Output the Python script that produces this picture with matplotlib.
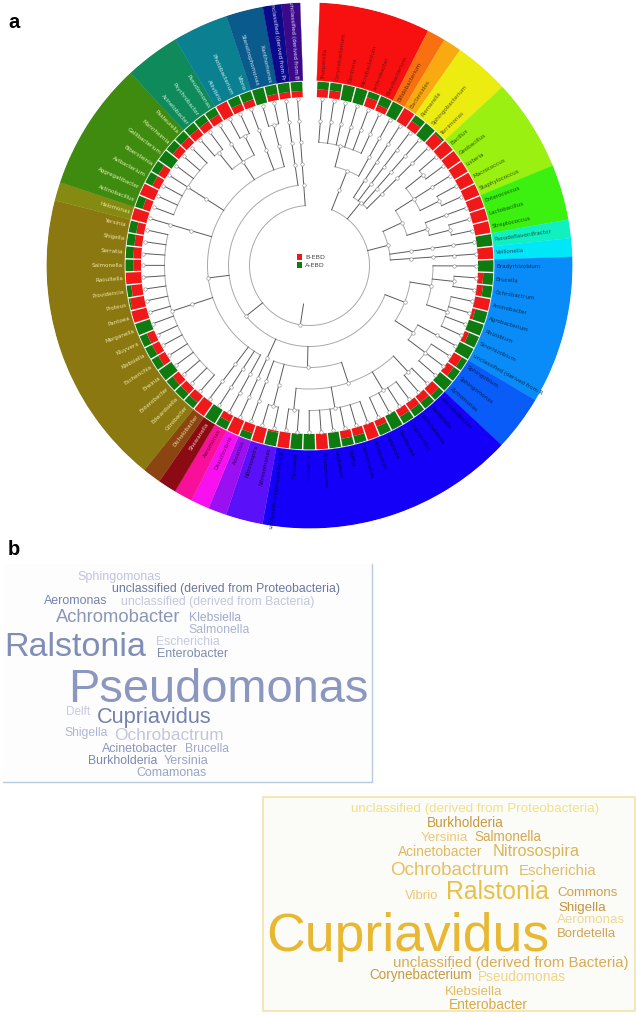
import numpy as np
import matplotlib
matplotlib.use("Agg")
import matplotlib.pyplot as plt
from matplotlib.patches import Rectangle

plt.rcParams['font.family'] = ['Liberation Sans', 'DejaVu Sans']

# Panel a: genera clockwise from the top of the ring
genera = ['Trueperella', 'Corynebacterium', 'Gordonia', 'Microbacterium', 'Arthrobacter', 'Brevibacterium',
          'Bifidobacterium', 'Bacteroides', 'Riemerella', 'Sphingobacterium', 'Terrimonas',
          'Bacillus', 'Geobacillus', 'Listeria', 'Macrococcus', 'Staphylococcus',
          'Enterococcus', 'Lactobacillus', 'Streptococcus', 'Pseudoflavonifractor', 'Veillonella',
          'Bradyrhizobium', 'Brucella', 'Ochrobactrum', 'Aminobacter', 'Agrobacterium', 'Rhizobium',
          'Sinorhizobium', 'unclassified (derived from R', 'Sphingobium', 'Sphingomonas', 'Zymomonas',
          'Achromobacter', 'Bordetella', 'Burkholderia', 'Cupriavidus', 'Pandoraea', 'Ralstonia',
          'Acidovorax', 'Comamonas', 'Delftia', 'Leptothrix', 'Polaromonas', 'Laribacter', 'Neisseria',
          'unclassified (derived from B', 'Nitrosomonas', 'Nitrosospira', 'Azoarcus', 'Desulfovibrio',
          'Aeromonas', 'Shewanella', 'Dichelobacter', 'Citrobacter', 'Edwardsiella', 'Enterobacter',
          'Erwinia', 'Escherichia', 'Klebsiella', 'Kluyvera', 'Morganella', 'Pantoea', 'Proteus',
          'Providencia', 'Raoultella', 'Salmonella', 'Serratia', 'Shigella', 'Yersinia', 'Halomonas',
          'Actinobacillus', 'Aggregatibacter', 'Avibacterium', 'Bibersteinia', 'Gallibacterium',
          'Mannheimia', 'Pasteurella', 'Acinetobacter', 'Psychrobacter', 'Pseudomonas', 'Aliivibrio',
          'Photobacterium', 'Vibrio', 'Stenotrophomonas', 'Xanthomonas', 'unclassified (derived from Pr',
          'unclassified (derived from B']

# share of B-EBD in each ring tile, the rest is A-EBD
b_share = [0.5, 0.5, 0, 0, 0.6, 0.4, 0, 1, 0.55, 0, 0.85, 1, 1, 1, 1, 1, 1, 1, 1, 0, 1,
           0, 0.35, 0.4, 1, 0.2, 0, 0.3, 0, 0.6, 0.5, 0,
           0.6, 0.5, 0.5, 0.5, 0, 0.4, 1, 0.5, 0.5, 0, 1, 0, 0, 1, 0.1, 1, 0.55, 1, 0.45, 0, 1,
           0.55, 0.5, 0.5, 0, 0.5, 0.5, 0.5, 0, 1, 0.9, 0.7, 1, 0.5, 0.5, 0.5, 0.5,
           1, 0.5, 1, 0.5, 0.5, 0, 0.5, 0.5, 0.5, 0.5, 0.5, 1, 0.45, 0.45, 0, 0.4, 0.4, 0.4]

# outer sectors: how many genera each one holds, its fill and its text colour
sector_counts = [6, 1, 1, 3, 5, 3, 1, 1, 8, 3, 14, 2, 1, 1, 1, 1, 1, 16, 1, 7, 3, 3, 2, 1, 1]
sector_colors = ['#f81010', '#f87010', '#f8aa10', '#ecec10', '#9af010', '#3cf010', '#10f0c0', '#00e8f8',
                 '#0a8cf8', '#0a5cf8', '#1400f8', '#5a10f8', '#9a10f0', '#f810f0', '#f8109a', '#8b0a14',
                 '#8b4510', '#8b7810', '#858b10', '#3f8b10', '#0f8a5a', '#0a8090', '#0a5a8c', '#0a0a8a',
                 '#3a0a8a']
sector_text = ['#7a1010', '#6a2a00', '#6a4a00', '#5a5a00', '#2a5a00', '#0a5a00', '#005a4a', '#004a6a',
               '#00305a', '#00205a', '#00005a', '#1a0050', '#400070', '#700070', '#700040', '#e8c8b0',
               '#f0d8a0', '#efe6a8', '#efe6a8', '#dff0b0', '#c8f0d8', '#c8f0f0', '#c8e0f0', '#d8d8f8',
               '#e0d8f8']

# taxonomy tree: a list is a node, an int is a genus, (angle, list) fixes a stem angle
actino = [[[0, 1, 2, 3, 4, 5], 6]]
bactero = [7, 8, 9, 10]
firmi = [[[[11, 12], 13, [14, 15]], [16, [17, 18]]], 19, 20]
alpha = [[21, [22, 23], [24, 25, 26, 27]], [28, [29, 30, 31]]]
beta = [[[32, 33], [34, 35, 36, 37], [38, 39, 40, 41, 42, 43], [44, 45]], [[46, 47]], 48]
gamma = (263, [50, 51, 52, [list(range(53, 69))], 69, [list(range(70, 77))],
               [[77, 78], 79, [80, 81]], 82, [[83, 84]]])
proteo = [alpha, beta, 49, gamma, 85]
tree = [actino, bactero, firmi, proteo, 86]

# Panel b: word, left px, right px, baseline px, colour
left_words = ['Sphingomonas', 'unclassified (derived from Proteobacteria)', 'Aeromonas',
              'unclassified (derived from Bacteria)', 'Achromobacter', 'Klebsiella', 'Salmonella',
              'Ralstonia', 'Escherichia', 'Enterobacter', 'Pseudomonas', 'Delft', 'Cupriavidus',
              'Shigella', 'Ochrobactrum', 'Acinetobacter', 'Brucella', 'Burkholderia', 'Yersinia',
              'Comamonas']
left_x0 = [232, 337, 132, 363, 168, 566, 565, 12, 467, 470, 205, 197, 292, 192, 342, 306, 554, 265, 490, 410]
left_x1 = [482, 1025, 322, 945, 545, 722, 747, 440, 658, 684, 1108, 270, 637, 322, 671, 534, 686, 472, 624, 621]
left_y = [135, 172, 208, 210, 262, 257, 293, 362, 331, 367, 500, 541, 565, 603, 615, 650, 650, 686, 686, 724]
left_colors = ['#c0c4de', '#6a76a0', '#7482ae', '#c2c6de', '#8a96b8', '#a0a8cc', '#aab2d0', '#7e8eb6',
               '#c4c8e0', '#7e8cb0', '#8b97bf', '#c6cae2', '#7480ae', '#b0b6d6', '#c4c4dc', '#8a94bc',
               '#a2a8ca', '#7c88b2', '#9aa4c8', '#98a4c4']

right_words = ['unclassified (derived from Proteobacteria)', 'Burkholderia', 'Yersinia', 'Salmonella',
               'Acinetobacter', 'Nitrosospira', 'Ochrobactrum', 'Escherichia', 'Vibrio', 'Ralstonia',
               'Commons', 'Shigella', 'Aeromonas', 'Bordetella', 'Cupriavidus',
               'unclassified (derived from Bacteria)', 'Corynebacterium', 'Pseudomonas', 'Klebsiella',
               'Enterobacter']
right_x0 = [287, 515, 498, 658, 428, 712, 404, 790, 449, 572, 906, 910, 906, 906, 35, 413, 342, 670, 570, 583]
right_x1 = [1037, 745, 640, 860, 682, 972, 765, 1024, 549, 882, 1090, 1053, 1113, 1085, 885, 1125, 652, 935, 742, 820]
right_y = [65, 110, 152, 152, 198, 198, 255, 255, 327, 328, 318, 363, 400, 441, 482, 532, 566, 573, 615, 658]
right_colors = ['#f0e08a', '#c89a40', '#ecc878', '#d4a850', '#e0b860', '#dcb458', '#e4c060', '#e0bc70',
                '#ecc878', '#e8c048', '#d0a050', '#c49440', '#f0d890', '#d0a458', '#e8b832', '#d8ac58',
                '#c89a40', '#f0d488', '#e4bc60', '#d8a848']

W, H = 636, 1016
CX, CY, R_OUT = 309.5, 265.5, 263
LEVEL_R = [166.5, 145, 123.5, 102, 81, 60]
FIRST_DEG = 4.3
STEP_DEG = 351.6 / 86

fig = plt.figure(figsize=(W / 100, H / 100), dpi=100)

# full figure axes in pixels for panel letters, legend and word clouds
bg = fig.add_axes([0, 0, 1, 1])
bg.set_xlim(0, W)
bg.set_ylim(H, 0)
bg.axis('off')

ax = fig.add_axes([(CX - R_OUT) / W, 1 - (CY + R_OUT) / H, 2 * R_OUT / W, 2 * R_OUT / H], projection='polar')
ax.set_theta_zero_location('N')
ax.set_theta_direction(-1)
ax.set_ylim(0, R_OUT)
ax.axis('off')
ax.patch.set_alpha(0)

leaf_deg = FIRST_DEG + STEP_DEG * np.arange(len(genera))

# sectors and labels
leaf_text = []
start = 0
for count, color, tcolor in zip(sector_counts, sector_colors, sector_text):
    left = leaf_deg[start] - STEP_DEG / 2
    ax.bar(np.radians(left + count * STEP_DEG / 2), R_OUT - 185, width=np.radians(count * STEP_DEG),
           bottom=185, color=color, edgecolor=color, linewidth=0.2)
    leaf_text += [tcolor] * count
    start += count

for name, deg, tcolor in zip(genera, leaf_deg, leaf_text):
    if deg < 180:
        rot, ha = 90 - deg, 'left'
    else:
        rot, ha = 270 - deg, 'right'
    ax.text(np.radians(deg), 187, name, rotation=rot, rotation_mode='anchor', ha=ha, va='center',
            fontsize=4.1, color=tcolor, family=['DejaVu Sans'])

# ring of stacked tiles, B-EBD inside and A-EBD outside
tile_w = np.radians(3.65)
shares = np.array(b_share)
ax.bar(np.radians(leaf_deg), 15.5 * shares, width=tile_w, bottom=168.5, color='#f01818', linewidth=0)
ax.bar(np.radians(leaf_deg), 15.5 * (1 - shares), width=tile_w, bottom=168.5 + 15.5 * shares,
       color='#0f7a10', linewidth=0)


def node_deg(node):
    if isinstance(node, int):
        return leaf_deg[node]
    if isinstance(node, tuple):
        return node[0]
    return (node_deg(node[0]) + node_deg(node[-1])) / 2


dots_t, dots_r = [], []


def draw_tree(node, depth):
    kids = node[1] if isinstance(node, tuple) else node
    angles = [node_deg(k) for k in kids]
    if len(kids) > 1:
        t = np.radians(np.linspace(angles[0], angles[-1], 120))
        ax.plot(t, np.full(120, LEVEL_R[depth]), color='#a8a8a8', lw=0.7, zorder=3)
    for kid, deg in zip(kids, angles):
        low = 0 if isinstance(kid, int) else depth - 1
        ax.plot(np.radians([deg, deg]), [LEVEL_R[depth], LEVEL_R[low]], color='#5a5a5a', lw=0.7, zorder=3)
        for lev in range(low, depth):
            dots_t.append(np.radians(deg))
            dots_r.append(LEVEL_R[lev])
        if not isinstance(kid, int):
            draw_tree(kid, depth - 1)


draw_tree(tree, 5)
root_deg = node_deg(tree)
ax.plot(np.radians([root_deg, root_deg]), [LEVEL_R[5], 39], color='#5a5a5a', lw=0.7, zorder=3)
dots_t.append(np.radians(root_deg))
dots_r.append(LEVEL_R[5])
ax.plot(dots_t, dots_r, ls='none', marker='o', ms=2.5, mfc='white', mec='#909090', mew=0.45, zorder=4)

# legend in the middle of the tree
for y, color, label in [(254, '#f01818', 'B-EBD'), (262, '#0f7a10', 'A-EBD')]:
    bg.add_patch(Rectangle((296.5, y), 5.5, 5.5, facecolor=color, edgecolor='none'))
    bg.text(305, y + 5.2, label, fontsize=4.6, color='#444444', family=['DejaVu Sans'], zorder=6)

bg.text(8, 28, 'a', fontsize=14.5, fontweight='bold', color='black')
bg.text(8, 555, 'b', fontsize=14.5, fontweight='bold', color='black')

# word clouds
bg.add_patch(Rectangle((3, 564), 369, 218, facecolor='#fdfdfd', edgecolor='none'))
bg.plot([372, 372, 3], [564, 782, 782], color='#b8cadb', lw=1.0)
bg.add_patch(Rectangle((263, 797), 372, 214, facecolor='#fbfbf8', edgecolor='#f5e0a0', lw=1.1))


def word_cloud(words, x0s, x1s, ys, colors, ox, oy):
    fig.canvas.draw()
    rend = fig.canvas.get_renderer()
    for word, x0, x1, y, c in zip(words, x0s, x1s, ys, colors):
        t = bg.text(ox + x0 / 3, oy + y / 3, word, fontsize=10, color=c, ha='left', va='baseline')
        # zoomed px to figure px, then scale font to the measured word width
        t.set_fontsize(10 * (x1 - x0) / 3 / t.get_window_extent(rend).width)


word_cloud(left_words, left_x0, left_x1, left_y, left_colors, 0, 535)
word_cloud(right_words, right_x0, right_x1, right_y, right_colors, 255, 790)

fig.savefig('out.png', dpi=100)
